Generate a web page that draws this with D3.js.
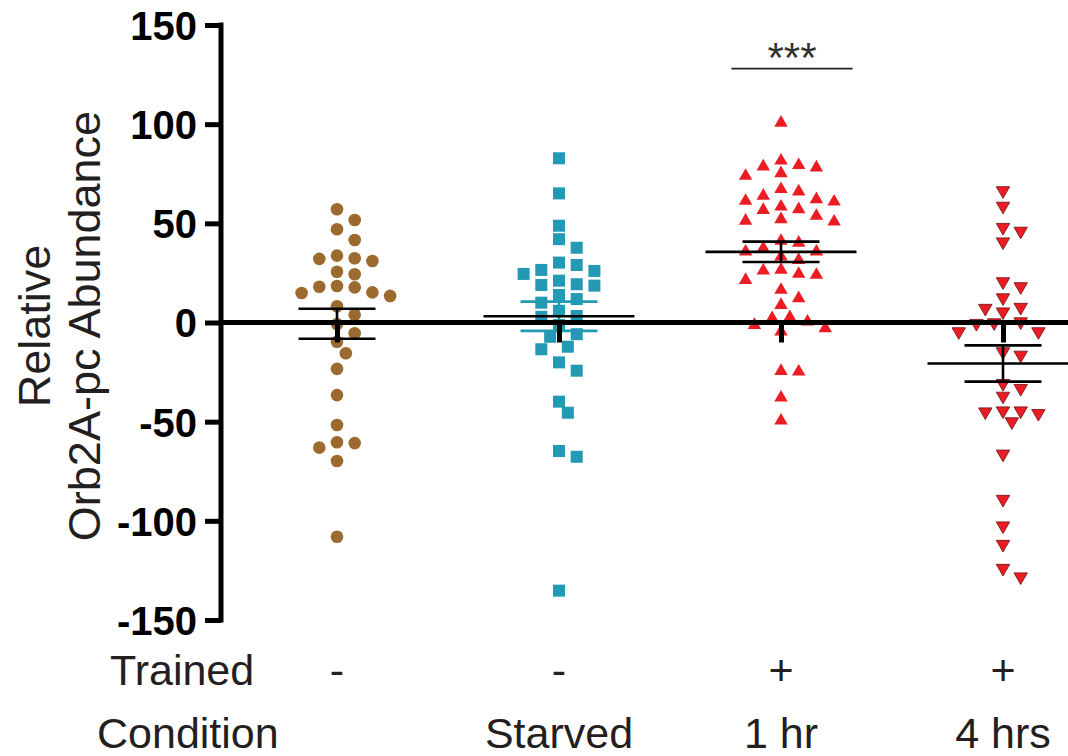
<!DOCTYPE html>
<html><head><meta charset="utf-8">
<script src="https://cdn.jsdelivr.net/npm/d3@7"></script>
<style>body{margin:0;background:#fff}svg{display:block}</style>
</head><body>
<svg id="chart" width="1068" height="756"></svg>
<script>
// ---------- data ----------
const categories = ["control", "starved", "1hr", "4hrs"];
const trainedLabels = ["-", "-", "+", "+"];
const conditionLabels = ["", "Starved", "1 hr", "4 hrs"];
const yTicks = [-150, -100, -50, 0, 50, 100, 150];

const controlValues = [57.1, 51.7, 47.0, 41.6, 32.1, 31.0, 33.7, 32.4, 24.3, 25.6,
  18.4, 17.7, 14.9, 13.4, 15.2, 18.0, 8.2, 3.9, -0.8, -5.4, -9.7, -15.5, -23.4,
  -36.6, -51.7, -60.4, -63.1, -60.8, -69.8, -108.0];
const starvedValues = [82.8, 65.1, 48.8, 42.0, 37.7, 29.0, 30.2, 24.5, 26.5, 26.0,
  18.9, 21.1, 19.3, 18.6, 13.9, 10.0, 11.8, 5.9, 2.9, 3.3, -1.3, -7.2, -5.9,
  -12.2, -13.5, -20.1, -24.3, -39.9, -45.5, -64.8, -67.7, -135.2];
const oneHrValues = [100.7, 81.6, 78.6, 75.2, 73.9, 78.1, 79.3, 66.0, 62.1, 60.9,
  61.3, 63.9, 67.2, 57.1, 53.7, 51.3, 50.8, 52.0, 56.7, 58.4, 41.1, 37.4, 35.7,
  31.5, 33.2, 35.7, 40.2, 26.1, 24.0, 21.4, 24.5, 26.5, 16.4, 8.8, 12.2, 2.6,
  0.4, -2.9, -4.6, -1.3, 2.1, -24.8, -24.5, -37.9, -49.5];
const fourHrsValues = [66.5, 58.7, 46.1, 40.7, 48.0, 20.6, 18.1, 12.5, 7.2, 5.4,
  7.7, 0.4, -0.4, -0.1, -4.6, -4.6, -14.7, -16.4, -30.7, -37.1, -33.2, -45.0,
  -45.8, -50.0, -44.5, -44.5, -66.3, -89.1, -102.5, -111.8, -123.9, -128.2];

const seriesValues = [controlValues, starvedValues, oneHrValues, fourHrsValues];
const significance = { category: "1hr", value: 128, label: "***" };

// ---------- styles ----------
const colors = ["#9c6a2e", "#2399b3", "#ec1c24", "#ec1c24"];
const errColors = ["#000", "#2399b3", "#000", "#000"];
const symbols = ["circle", "square", "up", "down"];

const svg = d3.select("#chart");
const y = d3.scaleLinear().domain([-150, 150]).range([620, 25]);
const x = d3.scalePoint().domain(categories).range([337, 1003]);
const axisX = 221;

// ---------- beeswarm (elliptical collision on a half-slot grid) ----------
function swarm(values, cx, unit, rx, ry) {
  const pts = values.map((v, i) => ({ v, i, y: y(v) })).sort((a, b) => a.y - b.y);
  const placed = [];
  for (const p of pts) {
    let found = null;
    for (let k = 0; found === null && k < 40; k++) {
      const cands = k === 0 ? [0] : [k, -k];
      for (const c of cands) {
        const px = cx + c * unit;
        const ok = placed.every(q => ((q.x - px) / rx) ** 2 + ((q.y - p.y) / ry) ** 2 >= 1);
        if (ok) { found = px; break; }
      }
    }
    p.x = found;
    placed.push(p);
  }
  return placed;
}

const gPts = svg.append("g");
seriesValues.forEach((vals, gi) => {
  const pts = swarm(vals, x(categories[gi]), 8.85, 17.6, 12.5);
  const g = gPts.append("g");
  pts.forEach(p => {
    const s = symbols[gi];
    if (s === "circle") {
      g.append("circle").attr("cx", p.x).attr("cy", p.y).attr("r", 6.3).attr("fill", colors[gi]);
    } else if (s === "square") {
      g.append("rect").attr("x", p.x - 6).attr("y", p.y - 6).attr("width", 12).attr("height", 12).attr("fill", colors[gi]);
    } else {
      const path = d3.symbol().type(d3.symbolTriangle).size(78)();
      g.append("path").attr("d", path)
        .attr("transform", `translate(${p.x},${p.y})` + (s === "down" ? " rotate(180)" : ""))
        .attr("fill", colors[gi])
        .attr("stroke", s === "down" ? "#7a1a1a" : "none")
        .attr("stroke-width", 0.9);
    }
  });
});

// ---------- mean & SEM ----------
const gErr = svg.append("g");
seriesValues.forEach((vals, gi) => {
  const cx = x(categories[gi]);
  const m = d3.mean(vals);
  const sem = d3.deviation(vals) / Math.sqrt(vals.length);
  const c = errColors[gi];
  gErr.append("line").attr("x1", cx).attr("x2", cx).attr("y1", y(m + sem)).attr("y2", y(m - sem))
    .attr("stroke", c).attr("stroke-width", 2.6);
  [m + sem, m - sem].forEach(v => gErr.append("line").attr("x1", cx - 38.5).attr("x2", cx + 38.5)
    .attr("y1", y(v)).attr("y2", y(v)).attr("stroke", c).attr("stroke-width", 2.6));
  gErr.append("line").attr("x1", cx - 75.5).attr("x2", cx + 75.5).attr("y1", y(m)).attr("y2", y(m))
    .attr("stroke", "#000").attr("stroke-width", 2.6);
});

// ---------- axes ----------
const yAxis = d3.axisLeft(y).tickValues(yTicks).tickFormat(d => String(d))
  .tickSize(16).tickSizeOuter(0).tickPadding(8);
const gy = svg.append("g").attr("transform", `translate(${axisX},0)`).call(yAxis);
gy.select(".domain").remove();
gy.append("line").attr("x1", 0).attr("x2", 0).attr("y1", y(150) - 2.5).attr("y2", y(-150) + 2.5)
  .attr("stroke", "#000").attr("stroke-width", 5);
gy.selectAll(".tick line").attr("stroke", "#000").attr("stroke-width", 5);
gy.selectAll(".tick text").attr("fill", "#000")
  .style("font-family", "'Liberation Sans', Arial, sans-serif")
  .style("font-weight", "bold").style("font-size", "40px").attr("dy", "0.36em");

const xAxis = d3.axisBottom(x).tickSize(20).tickFormat("");
const gx = svg.append("g").attr("transform", `translate(0,${y(0)})`).call(xAxis);
gx.select(".domain").remove();
gx.selectAll(".tick line").attr("stroke", "#000").attr("stroke-width", 5);
svg.append("line").attr("x1", axisX).attr("x2", 1068).attr("y1", y(0)).attr("y2", y(0))
  .attr("stroke", "#000").attr("stroke-width", 5);

// ---------- texts ----------
const font = "'Liberation Sans', Arial, sans-serif";
const txtColor = "#231f20";
const yt = svg.append("g").attr("transform", "translate(0,326) rotate(-90)")
  .style("font-family", font).style("font-size", "45px").attr("fill", txtColor).attr("text-anchor", "middle");
yt.append("text").attr("x", 0).attr("y", 50).text("Relative");
yt.append("text").attr("x", 0).attr("y", 100).text("Orb2A-pc Abundance");

const lab = svg.append("g").style("font-family", font).style("font-size", "43px").attr("fill", txtColor);
lab.append("text").attr("x", 110).attr("y", 685).text("Trained");
lab.append("text").attr("x", 97).attr("y", 748).text("Condition");
categories.forEach((c, i) => {
  lab.append("text").attr("x", x(c)).attr("y", 685).attr("text-anchor", "middle").text(trainedLabels[i]);
  if (conditionLabels[i]) {
    lab.append("text").attr("x", x(c)).attr("y", 748).attr("text-anchor", "middle").text(conditionLabels[i]);
  }
});

// significance
const sx = x(significance.category) + 11;
svg.append("line").attr("x1", sx - 60.5).attr("x2", sx + 60.5)
  .attr("y1", y(significance.value)).attr("y2", y(significance.value))
  .attr("stroke", "#222").attr("stroke-width", 1.6);
svg.append("text").attr("x", sx).attr("y", y(significance.value) + 3).attr("text-anchor", "middle")
  .style("font-family", font).style("font-size", "42px").attr("fill", "#333").text(significance.label);
</script>
</body></html>
